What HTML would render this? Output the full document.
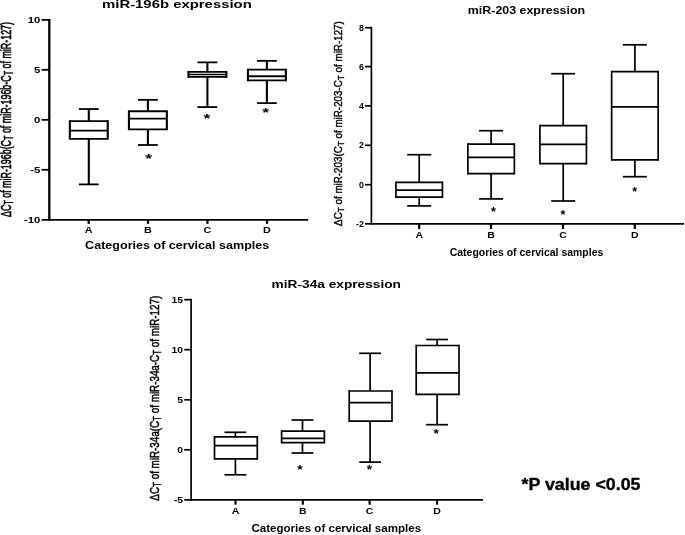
<!DOCTYPE html>
<html><head><meta charset="utf-8"><title>miRNA expression box plots</title>
<style>
html,body{margin:0;padding:0;background:#fff;}
body{width:685px;height:535px;overflow:hidden;}
svg{display:block;}
svg text{font-family:"Liberation Sans", sans-serif;fill:#000;}
svg line{stroke:#000;stroke-linecap:butt;}
</style></head>
<body>
<svg width="685" height="535" viewBox="0 0 685 535">
<defs><filter id="soft" x="0" y="0" width="685" height="535" filterUnits="userSpaceOnUse"><feGaussianBlur stdDeviation="0.35"/></filter></defs>
<rect x="0" y="0" width="685" height="535" fill="#ffffff"/>
<g filter="url(#soft)">
<g id="c1">
<line x1="49.30" y1="19.00" x2="49.30" y2="220.75" stroke-width="2.3"/>
<line x1="49.30" y1="219.85" x2="308.20" y2="219.85" stroke-width="1.8"/>
<line x1="41.65" y1="19.90" x2="49.30" y2="19.90" stroke-width="1.8"/>
<line x1="41.65" y1="69.80" x2="49.30" y2="69.80" stroke-width="1.8"/>
<line x1="41.65" y1="119.80" x2="49.30" y2="119.80" stroke-width="1.8"/>
<line x1="41.65" y1="169.80" x2="49.30" y2="169.80" stroke-width="1.8"/>
<line x1="41.65" y1="219.85" x2="49.30" y2="219.85" stroke-width="1.8"/>
<line x1="88.70" y1="219.85" x2="88.70" y2="223.85" stroke-width="2.3"/>
<line x1="148.00" y1="219.85" x2="148.00" y2="223.85" stroke-width="2.3"/>
<line x1="207.40" y1="219.85" x2="207.40" y2="223.85" stroke-width="2.3"/>
<line x1="267.00" y1="219.85" x2="267.00" y2="223.85" stroke-width="2.3"/>
<line x1="88.80" y1="109.05" x2="88.80" y2="121.05" stroke-width="2.1"/>
<line x1="88.80" y1="138.80" x2="88.80" y2="184.40" stroke-width="2.1"/>
<line x1="78.90" y1="109.05" x2="98.70" y2="109.05" stroke-width="1.8"/>
<line x1="78.90" y1="184.40" x2="98.70" y2="184.40" stroke-width="1.8"/>
<line x1="69.85" y1="121.05" x2="107.75" y2="121.05" stroke-width="1.8"/>
<line x1="69.85" y1="138.80" x2="107.75" y2="138.80" stroke-width="1.8"/>
<line x1="69.85" y1="120.15" x2="69.85" y2="139.70" stroke-width="2.1"/>
<line x1="107.75" y1="120.15" x2="107.75" y2="139.70" stroke-width="2.1"/>
<line x1="69.85" y1="130.65" x2="107.75" y2="130.65" stroke-width="1.8"/>
<line x1="147.90" y1="99.85" x2="147.90" y2="111.25" stroke-width="2.1"/>
<line x1="147.90" y1="129.30" x2="147.90" y2="145.00" stroke-width="2.1"/>
<line x1="138.00" y1="99.85" x2="157.80" y2="99.85" stroke-width="1.8"/>
<line x1="138.00" y1="145.00" x2="157.80" y2="145.00" stroke-width="1.8"/>
<line x1="128.95" y1="111.25" x2="166.85" y2="111.25" stroke-width="1.8"/>
<line x1="128.95" y1="129.30" x2="166.85" y2="129.30" stroke-width="1.8"/>
<line x1="128.95" y1="110.35" x2="128.95" y2="130.20" stroke-width="2.1"/>
<line x1="166.85" y1="110.35" x2="166.85" y2="130.20" stroke-width="2.1"/>
<line x1="128.95" y1="118.65" x2="166.85" y2="118.65" stroke-width="1.8"/>
<line x1="207.40" y1="62.35" x2="207.40" y2="71.85" stroke-width="2.1"/>
<line x1="207.40" y1="76.95" x2="207.40" y2="107.10" stroke-width="2.1"/>
<line x1="197.50" y1="62.35" x2="217.30" y2="62.35" stroke-width="1.8"/>
<line x1="197.50" y1="107.10" x2="217.30" y2="107.10" stroke-width="1.8"/>
<line x1="188.45" y1="71.85" x2="226.35" y2="71.85" stroke-width="1.8"/>
<line x1="188.45" y1="76.95" x2="226.35" y2="76.95" stroke-width="1.8"/>
<line x1="188.45" y1="70.95" x2="188.45" y2="77.85" stroke-width="2.1"/>
<line x1="226.35" y1="70.95" x2="226.35" y2="77.85" stroke-width="2.1"/>
<line x1="188.45" y1="74.50" x2="226.35" y2="74.50" stroke-width="1.3"/>
<line x1="266.90" y1="60.85" x2="266.90" y2="69.55" stroke-width="2.1"/>
<line x1="266.90" y1="80.40" x2="266.90" y2="103.10" stroke-width="2.1"/>
<line x1="257.00" y1="60.85" x2="276.80" y2="60.85" stroke-width="1.8"/>
<line x1="257.00" y1="103.10" x2="276.80" y2="103.10" stroke-width="1.8"/>
<line x1="247.95" y1="69.55" x2="285.85" y2="69.55" stroke-width="1.8"/>
<line x1="247.95" y1="80.40" x2="285.85" y2="80.40" stroke-width="1.8"/>
<line x1="247.95" y1="68.65" x2="247.95" y2="81.30" stroke-width="2.1"/>
<line x1="285.85" y1="68.65" x2="285.85" y2="81.30" stroke-width="2.1"/>
<line x1="247.95" y1="76.25" x2="285.85" y2="76.25" stroke-width="1.8"/>
<text x="102.00" y="7.90" font-size="10.7" font-weight="bold" text-anchor="start" textLength="149.80" lengthAdjust="spacingAndGlyphs">miR-196b expression</text>
<text x="85.10" y="249.10" font-size="10.6" font-weight="bold" text-anchor="start" textLength="184.20" lengthAdjust="spacingAndGlyphs">Categories of cervical samples</text>
<text transform="translate(40.30,22.98) scale(1.32,1)" font-size="8.6" font-weight="bold" text-anchor="end">10</text>
<text transform="translate(40.30,72.88) scale(1.32,1)" font-size="8.6" font-weight="bold" text-anchor="end">5</text>
<text transform="translate(40.30,122.88) scale(1.32,1)" font-size="8.6" font-weight="bold" text-anchor="end">0</text>
<text transform="translate(40.30,172.88) scale(1.32,1)" font-size="8.6" font-weight="bold" text-anchor="end">-5</text>
<text transform="translate(40.30,222.93) scale(1.32,1)" font-size="8.6" font-weight="bold" text-anchor="end">-10</text>
<text transform="translate(88.70,232.60) scale(1.32,1)" font-size="8.2" font-weight="bold" text-anchor="middle">A</text>
<text transform="translate(148.00,232.60) scale(1.32,1)" font-size="8.2" font-weight="bold" text-anchor="middle">B</text>
<text transform="translate(207.40,232.60) scale(1.32,1)" font-size="8.2" font-weight="bold" text-anchor="middle">C</text>
<text transform="translate(267.00,232.60) scale(1.32,1)" font-size="8.2" font-weight="bold" text-anchor="middle">D</text>
<text transform="translate(148.60,162.86) scale(1.4,1)" font-size="12.5" font-weight="bold" text-anchor="middle">*</text>
<text transform="translate(207.00,123.46) scale(1.4,1)" font-size="12.5" font-weight="bold" text-anchor="middle">*</text>
<text transform="translate(265.70,116.96) scale(1.4,1)" font-size="12.5" font-weight="bold" text-anchor="middle">*</text>
</g>
<g id="c2">
<line x1="371.40" y1="26.85" x2="371.40" y2="224.65" stroke-width="1.7"/>
<line x1="371.40" y1="223.80" x2="684.00" y2="223.80" stroke-width="1.7"/>
<line x1="365.05" y1="27.70" x2="371.40" y2="27.70" stroke-width="1.7"/>
<line x1="365.05" y1="66.60" x2="371.40" y2="66.60" stroke-width="1.7"/>
<line x1="365.05" y1="105.90" x2="371.40" y2="105.90" stroke-width="1.7"/>
<line x1="365.05" y1="145.30" x2="371.40" y2="145.30" stroke-width="1.7"/>
<line x1="365.05" y1="184.70" x2="371.40" y2="184.70" stroke-width="1.7"/>
<line x1="365.05" y1="223.80" x2="371.40" y2="223.80" stroke-width="1.7"/>
<line x1="419.20" y1="223.80" x2="419.20" y2="229.00" stroke-width="2.2"/>
<line x1="491.00" y1="223.80" x2="491.00" y2="229.00" stroke-width="2.2"/>
<line x1="563.00" y1="223.80" x2="563.00" y2="229.00" stroke-width="2.2"/>
<line x1="634.80" y1="223.80" x2="634.80" y2="229.00" stroke-width="2.2"/>
<line x1="419.20" y1="154.70" x2="419.20" y2="182.30" stroke-width="1.7"/>
<line x1="419.20" y1="197.10" x2="419.20" y2="205.90" stroke-width="1.7"/>
<line x1="407.20" y1="154.70" x2="431.20" y2="154.70" stroke-width="1.7"/>
<line x1="407.20" y1="205.90" x2="431.20" y2="205.90" stroke-width="1.7"/>
<line x1="395.95" y1="182.30" x2="442.45" y2="182.30" stroke-width="1.7"/>
<line x1="395.95" y1="197.10" x2="442.45" y2="197.10" stroke-width="1.7"/>
<line x1="395.95" y1="181.45" x2="395.95" y2="197.95" stroke-width="1.7"/>
<line x1="442.45" y1="181.45" x2="442.45" y2="197.95" stroke-width="1.7"/>
<line x1="395.95" y1="190.10" x2="442.45" y2="190.10" stroke-width="1.7"/>
<line x1="491.10" y1="130.70" x2="491.10" y2="144.20" stroke-width="1.7"/>
<line x1="491.10" y1="173.60" x2="491.10" y2="198.90" stroke-width="1.7"/>
<line x1="479.10" y1="130.70" x2="503.10" y2="130.70" stroke-width="1.7"/>
<line x1="479.10" y1="198.90" x2="503.10" y2="198.90" stroke-width="1.7"/>
<line x1="467.85" y1="144.20" x2="514.35" y2="144.20" stroke-width="1.7"/>
<line x1="467.85" y1="173.60" x2="514.35" y2="173.60" stroke-width="1.7"/>
<line x1="467.85" y1="143.35" x2="467.85" y2="174.45" stroke-width="1.7"/>
<line x1="514.35" y1="143.35" x2="514.35" y2="174.45" stroke-width="1.7"/>
<line x1="467.85" y1="157.40" x2="514.35" y2="157.40" stroke-width="1.7"/>
<line x1="563.20" y1="73.70" x2="563.20" y2="125.60" stroke-width="1.7"/>
<line x1="563.20" y1="163.70" x2="563.20" y2="201.00" stroke-width="1.7"/>
<line x1="551.20" y1="73.70" x2="575.20" y2="73.70" stroke-width="1.7"/>
<line x1="551.20" y1="201.00" x2="575.20" y2="201.00" stroke-width="1.7"/>
<line x1="539.95" y1="125.60" x2="586.45" y2="125.60" stroke-width="1.7"/>
<line x1="539.95" y1="163.70" x2="586.45" y2="163.70" stroke-width="1.7"/>
<line x1="539.95" y1="124.75" x2="539.95" y2="164.55" stroke-width="1.7"/>
<line x1="586.45" y1="124.75" x2="586.45" y2="164.55" stroke-width="1.7"/>
<line x1="539.95" y1="144.30" x2="586.45" y2="144.30" stroke-width="1.7"/>
<line x1="634.90" y1="44.80" x2="634.90" y2="71.60" stroke-width="1.7"/>
<line x1="634.90" y1="159.80" x2="634.90" y2="176.70" stroke-width="1.7"/>
<line x1="622.90" y1="44.80" x2="646.90" y2="44.80" stroke-width="1.7"/>
<line x1="622.90" y1="176.70" x2="646.90" y2="176.70" stroke-width="1.7"/>
<line x1="611.65" y1="71.60" x2="658.15" y2="71.60" stroke-width="1.7"/>
<line x1="611.65" y1="159.80" x2="658.15" y2="159.80" stroke-width="1.7"/>
<line x1="611.65" y1="70.75" x2="611.65" y2="160.65" stroke-width="1.7"/>
<line x1="658.15" y1="70.75" x2="658.15" y2="160.65" stroke-width="1.7"/>
<line x1="611.65" y1="106.90" x2="658.15" y2="106.90" stroke-width="1.7"/>
<text x="467.80" y="14.10" font-size="11.2" font-weight="bold" text-anchor="start" textLength="117.30" lengthAdjust="spacingAndGlyphs">miR-203 expression</text>
<text x="449.70" y="256.10" font-size="11.2" font-weight="bold" text-anchor="start" textLength="153.60" lengthAdjust="spacingAndGlyphs">Categories of cervical samples</text>
<text transform="translate(363.80,30.75) scale(1.0,1)" font-size="8.8" font-weight="bold" text-anchor="end">8</text>
<text transform="translate(363.80,69.65) scale(1.0,1)" font-size="8.8" font-weight="bold" text-anchor="end">6</text>
<text transform="translate(363.80,108.95) scale(1.0,1)" font-size="8.8" font-weight="bold" text-anchor="end">4</text>
<text transform="translate(363.80,148.35) scale(1.0,1)" font-size="8.8" font-weight="bold" text-anchor="end">2</text>
<text transform="translate(363.80,187.75) scale(1.0,1)" font-size="8.8" font-weight="bold" text-anchor="end">0</text>
<text transform="translate(363.80,226.85) scale(1.0,1)" font-size="8.8" font-weight="bold" text-anchor="end">-2</text>
<text transform="translate(419.20,238.10) scale(1.2,1)" font-size="8.8" font-weight="bold" text-anchor="middle">A</text>
<text transform="translate(491.00,238.10) scale(1.2,1)" font-size="8.8" font-weight="bold" text-anchor="middle">B</text>
<text transform="translate(563.00,238.10) scale(1.2,1)" font-size="8.8" font-weight="bold" text-anchor="middle">C</text>
<text transform="translate(634.80,238.10) scale(1.2,1)" font-size="8.8" font-weight="bold" text-anchor="middle">D</text>
<text transform="translate(493.50,216.10) scale(1.05,1)" font-size="12" font-weight="bold" text-anchor="middle">*</text>
<text transform="translate(563.00,218.90) scale(1.05,1)" font-size="12" font-weight="bold" text-anchor="middle">*</text>
<text transform="translate(634.70,196.20) scale(1.05,1)" font-size="12" font-weight="bold" text-anchor="middle">*</text>
</g>
<g id="c3">
<line x1="191.10" y1="298.85" x2="191.10" y2="500.75" stroke-width="1.7"/>
<line x1="191.10" y1="499.90" x2="483.10" y2="499.90" stroke-width="1.7"/>
<line x1="184.25" y1="299.70" x2="191.10" y2="299.70" stroke-width="1.7"/>
<line x1="184.25" y1="349.70" x2="191.10" y2="349.70" stroke-width="1.7"/>
<line x1="184.25" y1="399.80" x2="191.10" y2="399.80" stroke-width="1.7"/>
<line x1="184.25" y1="449.80" x2="191.10" y2="449.80" stroke-width="1.7"/>
<line x1="184.25" y1="499.90" x2="191.10" y2="499.90" stroke-width="1.7"/>
<line x1="235.50" y1="499.90" x2="235.50" y2="504.70" stroke-width="2.1"/>
<line x1="302.80" y1="499.90" x2="302.80" y2="504.70" stroke-width="2.1"/>
<line x1="369.60" y1="499.90" x2="369.60" y2="504.70" stroke-width="2.1"/>
<line x1="437.10" y1="499.90" x2="437.10" y2="504.70" stroke-width="2.1"/>
<line x1="235.40" y1="432.30" x2="235.40" y2="436.80" stroke-width="1.7"/>
<line x1="235.40" y1="458.90" x2="235.40" y2="474.80" stroke-width="1.7"/>
<line x1="224.50" y1="432.30" x2="246.30" y2="432.30" stroke-width="1.7"/>
<line x1="224.50" y1="474.80" x2="246.30" y2="474.80" stroke-width="1.7"/>
<line x1="214.50" y1="436.80" x2="257.30" y2="436.80" stroke-width="1.7"/>
<line x1="214.50" y1="458.90" x2="257.30" y2="458.90" stroke-width="1.7"/>
<line x1="214.50" y1="435.95" x2="214.50" y2="459.75" stroke-width="1.7"/>
<line x1="257.30" y1="435.95" x2="257.30" y2="459.75" stroke-width="1.7"/>
<line x1="214.50" y1="445.60" x2="257.30" y2="445.60" stroke-width="1.7"/>
<line x1="302.50" y1="420.00" x2="302.50" y2="431.10" stroke-width="1.7"/>
<line x1="302.50" y1="442.60" x2="302.50" y2="453.00" stroke-width="1.7"/>
<line x1="291.60" y1="420.00" x2="313.40" y2="420.00" stroke-width="1.7"/>
<line x1="291.60" y1="453.00" x2="313.40" y2="453.00" stroke-width="1.7"/>
<line x1="281.60" y1="431.10" x2="324.40" y2="431.10" stroke-width="1.7"/>
<line x1="281.60" y1="442.60" x2="324.40" y2="442.60" stroke-width="1.7"/>
<line x1="281.60" y1="430.25" x2="281.60" y2="443.45" stroke-width="1.7"/>
<line x1="324.40" y1="430.25" x2="324.40" y2="443.45" stroke-width="1.7"/>
<line x1="281.60" y1="438.40" x2="324.40" y2="438.40" stroke-width="1.7"/>
<line x1="370.10" y1="353.30" x2="370.10" y2="391.00" stroke-width="1.7"/>
<line x1="370.10" y1="421.20" x2="370.10" y2="462.10" stroke-width="1.7"/>
<line x1="359.20" y1="353.30" x2="381.00" y2="353.30" stroke-width="1.7"/>
<line x1="359.20" y1="462.10" x2="381.00" y2="462.10" stroke-width="1.7"/>
<line x1="349.20" y1="391.00" x2="392.00" y2="391.00" stroke-width="1.7"/>
<line x1="349.20" y1="421.20" x2="392.00" y2="421.20" stroke-width="1.7"/>
<line x1="349.20" y1="390.15" x2="349.20" y2="422.05" stroke-width="1.7"/>
<line x1="392.00" y1="390.15" x2="392.00" y2="422.05" stroke-width="1.7"/>
<line x1="349.20" y1="402.70" x2="392.00" y2="402.70" stroke-width="1.7"/>
<line x1="437.10" y1="339.50" x2="437.10" y2="345.50" stroke-width="1.7"/>
<line x1="437.10" y1="394.40" x2="437.10" y2="424.70" stroke-width="1.7"/>
<line x1="426.20" y1="339.50" x2="448.00" y2="339.50" stroke-width="1.7"/>
<line x1="426.20" y1="424.70" x2="448.00" y2="424.70" stroke-width="1.7"/>
<line x1="416.20" y1="345.50" x2="459.00" y2="345.50" stroke-width="1.7"/>
<line x1="416.20" y1="394.40" x2="459.00" y2="394.40" stroke-width="1.7"/>
<line x1="416.20" y1="344.65" x2="416.20" y2="395.25" stroke-width="1.7"/>
<line x1="459.00" y1="344.65" x2="459.00" y2="395.25" stroke-width="1.7"/>
<line x1="416.20" y1="372.90" x2="459.00" y2="372.90" stroke-width="1.7"/>
<text x="271.60" y="288.00" font-size="11.5" font-weight="bold" text-anchor="start" textLength="129.40" lengthAdjust="spacingAndGlyphs">miR-34a expression</text>
<text x="251.40" y="531.90" font-size="10.9" font-weight="bold" text-anchor="start" textLength="169.70" lengthAdjust="spacingAndGlyphs">Categories of cervical samples</text>
<text transform="translate(183.10,302.62) scale(1.15,1)" font-size="9.0" font-weight="bold" text-anchor="end">15</text>
<text transform="translate(183.10,352.62) scale(1.15,1)" font-size="9.0" font-weight="bold" text-anchor="end">10</text>
<text transform="translate(183.10,402.72) scale(1.15,1)" font-size="9.0" font-weight="bold" text-anchor="end">5</text>
<text transform="translate(183.10,452.72) scale(1.15,1)" font-size="9.0" font-weight="bold" text-anchor="end">0</text>
<text transform="translate(183.10,502.82) scale(1.15,1)" font-size="9.0" font-weight="bold" text-anchor="end">-5</text>
<text transform="translate(235.50,514.40) scale(1.2,1)" font-size="8.8" font-weight="bold" text-anchor="middle">A</text>
<text transform="translate(302.80,514.40) scale(1.2,1)" font-size="8.8" font-weight="bold" text-anchor="middle">B</text>
<text transform="translate(369.60,514.40) scale(1.2,1)" font-size="8.8" font-weight="bold" text-anchor="middle">C</text>
<text transform="translate(437.10,514.40) scale(1.2,1)" font-size="8.8" font-weight="bold" text-anchor="middle">D</text>
<text transform="translate(300.00,473.50) scale(1.15,1)" font-size="12" font-weight="bold" text-anchor="middle">*</text>
<text transform="translate(369.50,473.70) scale(1.15,1)" font-size="12" font-weight="bold" text-anchor="middle">*</text>
<text transform="translate(436.20,437.50) scale(1.15,1)" font-size="12" font-weight="bold" text-anchor="middle">*</text>
</g>
<text transform="translate(11.00,217.00) rotate(-90)" font-size="14.8" font-weight="normal" stroke="#000" stroke-width="0.6" textLength="195.00" lengthAdjust="spacingAndGlyphs">ΔC<tspan font-size="12.0" dy="2.2">T</tspan><tspan dy="-2.2"> of miR-196b(C</tspan><tspan font-size="12.0" dy="2.2">T</tspan><tspan dy="-2.2"> of miR-196b-C</tspan><tspan font-size="12.0" dy="2.2">T</tspan><tspan dy="-2.2"> of miR-127)</tspan></text>
<text transform="translate(341.50,225.90) rotate(-90)" font-size="11.4" font-weight="normal" stroke="#000" stroke-width="0.42" textLength="204.70" lengthAdjust="spacingAndGlyphs">ΔC<tspan font-size="9.6" dy="2.1">T</tspan><tspan dy="-2.1"> of miR-203(C</tspan><tspan font-size="9.6" dy="2.1">T</tspan><tspan dy="-2.1"> of miR-203-C</tspan><tspan font-size="9.6" dy="2.1">T</tspan><tspan dy="-2.1"> of miR-127)</tspan></text>
<text transform="translate(159.00,500.65) rotate(-90)" font-size="13.4" font-weight="normal" stroke="#000" stroke-width="0.5" textLength="204.85" lengthAdjust="spacingAndGlyphs">ΔC<tspan font-size="11.0" dy="2.2">T</tspan><tspan dy="-2.2"> of miR-34a(C</tspan><tspan font-size="11.0" dy="2.2">T</tspan><tspan dy="-2.2"> of miR-34a-C</tspan><tspan font-size="11.0" dy="2.2">T</tspan><tspan dy="-2.2"> of miR-127)</tspan></text>
<text stroke="#000" stroke-width="0.35" x="521.50" y="489.70" font-size="16.9" font-weight="bold" text-anchor="start" textLength="119.00" lengthAdjust="spacingAndGlyphs">*P value &lt;0.05</text>
</g>
</svg>
</body></html>
